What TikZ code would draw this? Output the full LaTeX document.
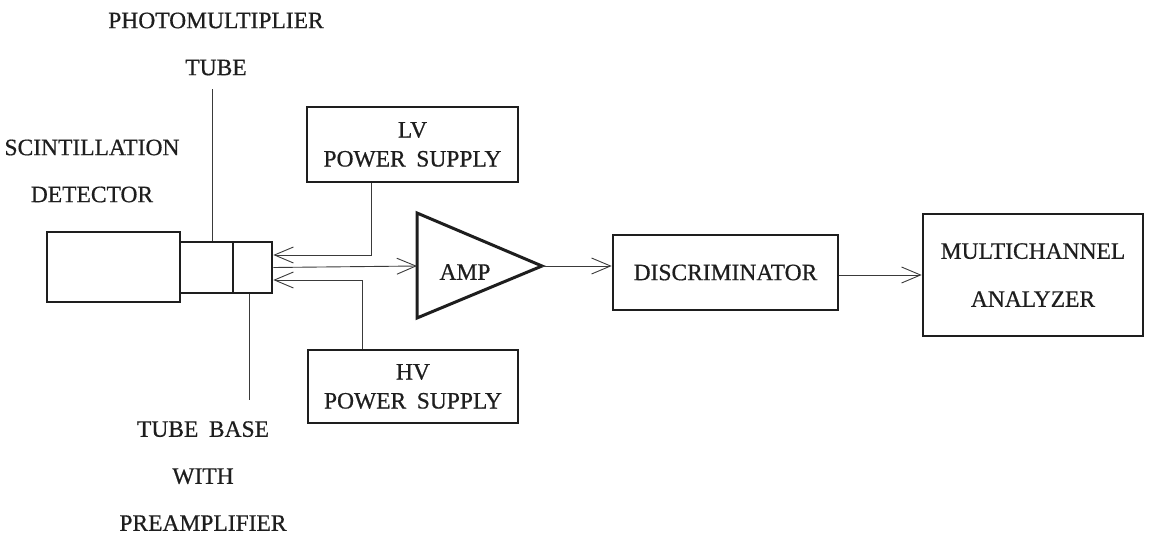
\documentclass[tikz,border=0pt]{standalone}
\usepackage{fontspec}
\setmainfont{Liberation Serif}[FakeBold=0.6]
\usetikzlibrary{arrows.meta}
\definecolor{ink}{HTML}{1E1E1E}
\definecolor{wire}{HTML}{3A3A3A}
\begin{document}
\begin{tikzpicture}[x=1pt,y=-1pt,
  lbl/.style={font=\fontsize{23.5}{47}\selectfont, align=center, text=ink, inner sep=0pt},
  boxtxt/.style={font=\fontsize{23.5}{29}\selectfont, align=center, text=ink, inner sep=0pt},
  blk/.style={draw=ink, line width=2.6pt, rectangle, inner sep=0pt},
  wireln/.style={draw=wire, line width=0.9pt},
  arr/.style={wireln, -{Straight Barb[length=19pt,width=16pt,line width=0.9pt]}}
]
\useasboundingbox (0,0) rectangle (1149,538);

% detector assembly
\node[blk, minimum width=133pt, minimum height=70pt] (det) at (113.5,267) {};
\node[blk, minimum width=53pt, minimum height=51pt] (tube) at (206.5,267.5) {};
\node[blk, minimum width=39pt, minimum height=51pt] (base) at (252.5,267.5) {};

% power supplies
\node[blk, minimum width=211pt, minimum height=75pt, boxtxt] (lv) at (412.5,144.5) {LV\\POWER\hspace{0.45em}SUPPLY};
\node[blk, minimum width=210pt, minimum height=73pt, boxtxt] (hv) at (413,386.5) {HV\\POWER\hspace{0.45em}SUPPLY};

% amplifier
\coordinate (ampin) at (417,266);
\coordinate (ampout) at (542,266);
\draw[ink, line width=3pt, line join=miter] (417,213) -- (ampout) -- (417,318) -- cycle;
\node[boxtxt] (amp) at (465,272) {AMP};

% discriminator and MCA
\node[blk, minimum width=225pt, minimum height=75pt, boxtxt] (disc) at (725.5,272.5) {DISCRIMINATOR};
\node[blk, minimum width=220pt, minimum height=122pt, font=\fontsize{23.5}{48}\selectfont, align=center, text=ink] (mca) at (1033,275) {MULTICHANNEL\\ANALYZER};

% labels
\node[lbl] (pmtlbl) at (216,44) {PHOTOMULTIPLIER\\TUBE};
\node[lbl] (scinlbl) at (92,171) {SCINTILLATION\\DETECTOR};
\node[lbl] (baselbl) at (203,476) {TUBE\hspace{0.45em}BASE\\WITH\\PREAMPLIFIER};

% leader lines
\coordinate (pmtend) at (212,89);
\coordinate (baseend) at (249,400);
\draw[wireln] (pmtend) -- (pmtend |- tube.north);
\draw[wireln] (baseend |- base.south) -- (baseend);

% connectors
\draw[arr] ([xshift=-41.5pt]lv.south) |- ([yshift=12.5pt]base.east);
\draw[arr] ([xshift=-51pt]hv.north) |- ([yshift=-12.5pt]base.east);
\draw[arr] (base.east) -- (ampin);
\draw[arr] (ampout) -- (disc.west |- ampout);
\draw[arr] (disc.east |- mca.west) -- (mca.west);
\end{tikzpicture}
\end{document}
